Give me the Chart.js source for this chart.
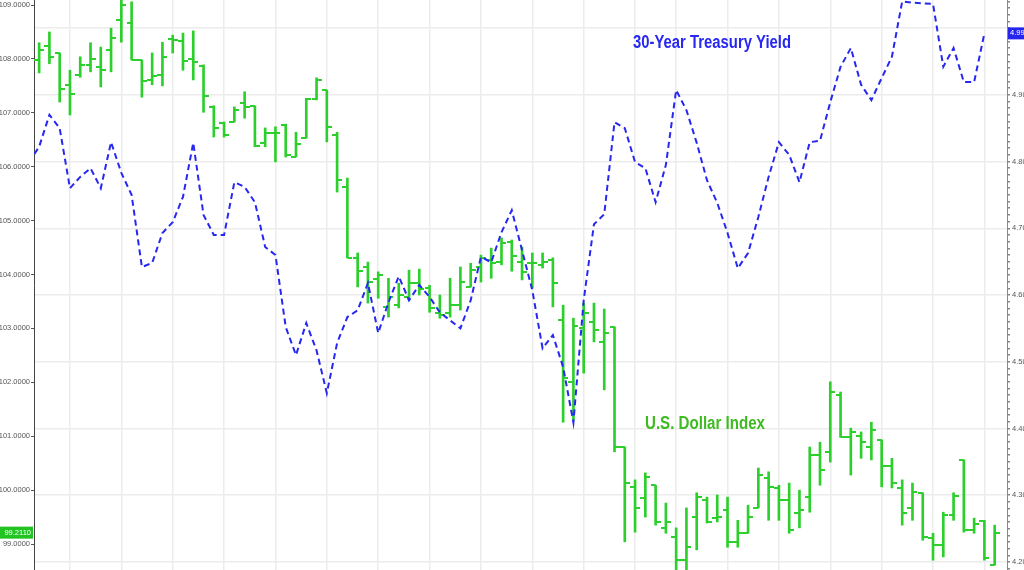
<!DOCTYPE html>
<html><head><meta charset="utf-8">
<script src="https://cdn.jsdelivr.net/npm/chart.js@4/dist/chart.umd.min.js"></script>
<style>html,body{margin:0;padding:0;background:#fff;overflow:hidden}#wrap{position:relative;width:1024px;height:570px}</style>
</head><body><div id="wrap"><canvas id="c"></canvas></div>
<script>
// trading-day index of each bar
const days = [0,1,2,3,4,5,6,7,8,9,10,11,12,13,14,15,16,17,18,19,20,21,22,23,24,25,26,27,28,29,30,31,32,33,34,35,36,37,38,39,40,41,42,43,44,45,46,47,48,49,50,51,52,53,54,55,56,57,58,59,60,61,62,63,64,65,66,67,68,69,70,71,72,73,74,75,76,77,78,79,80,81,82,83,84,85,86,87,88,89,90,91,92,93];
// first trading day of each week (vertical grid)
const weekStarts = [3,8,13,18,23,28,33,38,43,48,53,58,62,67,72,77,82,87,92];

const dxyOpen = [107.98,108.24,108.11,107.52,107.70,107.89,107.85,108.17,108.72,108.67,
 107.98,107.61,107.70,108.37,108.33,108.00,107.87,107.11,106.81,106.83,
 107.18,107.13,106.44,106.62,106.77,106.18,106.53,107.26,107.42,106.59,
 105.62,104.31,104.14,103.92,103.40,103.43,103.58,103.84,103.75,103.29,
 103.29,103.43,103.77,104.14,104.27,104.23,104.60,104.23,104.21,104.18,
 104.27,103.16,102.01,103.01,103.12,102.75,103.03,100.80,100.06,99.85,
 100.09,99.30,99.13,98.70,99.50,99.82,99.48,99.63,99.04,99.20,
 99.67,100.22,100.04,99.82,99.57,99.87,100.65,100.71,101.76,100.98,
 101.00,100.80,100.93,100.45,100.04,99.67,99.95,99.11,98.98,99.54,
 100.56,99.26,99.43,98.61];
const dxyHigh = [108.30,108.50,108.11,107.79,108.04,108.30,108.22,108.57,109.09,109.06,
 107.98,108.11,108.31,108.44,108.48,108.52,107.89,107.13,106.83,107.11,
 107.39,107.13,106.72,106.74,106.79,106.64,107.27,107.65,107.42,106.64,
 105.79,104.40,104.23,104.05,103.93,103.84,104.08,104.10,103.80,103.62,
 103.93,104.14,104.21,104.36,104.49,104.68,104.64,104.51,104.40,104.40,
 104.31,103.43,103.19,103.47,103.47,103.36,103.03,100.80,100.19,100.32,
 100.09,99.76,99.30,99.67,99.95,99.87,99.91,99.87,99.44,99.72,
 100.41,100.34,100.09,100.13,100.00,100.80,100.89,102.01,101.82,101.15,
 101.08,101.26,100.93,100.59,100.19,100.13,99.95,99.20,99.59,99.95,
 100.56,99.48,99.44,99.35];
const dxyLow = [107.74,107.91,107.20,106.96,107.66,107.76,107.48,107.76,108.31,107.98,
 107.29,107.52,107.50,108.11,107.79,107.61,107.01,106.55,106.55,106.83,
 106.90,106.37,106.37,106.09,106.18,106.18,106.53,107.24,106.46,105.53,
 104.31,103.77,103.47,103.56,103.21,103.38,103.53,103.62,103.30,103.19,
 103.21,103.34,103.77,103.86,103.93,104.18,104.06,103.90,103.75,104.12,
 103.40,101.26,101.30,102.17,102.75,101.86,100.71,99.04,99.22,99.50,
 99.35,99.20,98.33,98.33,98.89,99.39,99.41,98.94,98.94,99.20,
 99.67,99.44,99.44,99.20,99.30,99.59,100.09,100.52,100.98,100.28,
 100.59,100.56,100.06,100.04,99.35,99.44,99.07,98.70,98.76,99.44,
 99.22,99.20,98.70,98.61];
const dxyClose = [108.17,108.04,107.44,107.35,107.89,108.00,107.79,108.39,109.00,107.98,
 107.59,107.68,108.04,108.35,107.96,107.94,107.31,106.72,106.59,107.05,
 107.11,106.38,106.62,106.62,106.22,106.42,107.26,107.61,106.74,105.75,
 104.31,104.06,103.86,103.99,103.58,103.62,103.84,103.73,103.38,103.25,
 103.43,103.86,104.08,104.31,104.21,104.58,104.34,104.05,104.21,104.23,
 103.84,102.08,103.05,103.29,102.97,102.91,100.80,100.13,99.67,100.24,
 99.41,99.41,98.70,98.94,99.87,99.41,99.50,99.04,99.20,99.50,
 100.28,100.06,99.82,99.26,99.63,100.65,100.37,101.82,100.98,101.08,
 100.89,101.11,100.45,100.13,99.57,99.97,99.13,98.98,99.54,99.89,
 99.26,99.37,98.74,99.211];

const yieldDays = [-1,0,1,2,3,4,5,6,7,8,9,10,11,12,13,14,15,16,17,18,19,20,21,22,23,24,25,26,27,28,29,30,31,32,33,34,35,36,37,38,39,40,41,42,43,44,45,46,47,48,49,50,51,52,53,54,55,56,57,58,59,60,61,62,63,64,65,66,67,68,69,70,71,72,73,74,75,76,77,78,79,80,81,82,83,84,85,86,87,88,89,90,91,92];
const yield30 = [4.799,4.822,4.870,4.850,4.760,4.777,4.790,4.760,4.829,4.783,
 4.750,4.642,4.648,4.693,4.709,4.747,4.828,4.720,4.690,4.690,
 4.769,4.762,4.739,4.672,4.660,4.552,4.510,4.558,4.517,4.453,
 4.528,4.567,4.577,4.618,4.543,4.589,4.628,4.592,4.615,4.597,
 4.574,4.562,4.550,4.592,4.657,4.649,4.694,4.727,4.667,4.607,
 4.520,4.540,4.492,4.409,4.592,4.706,4.721,4.859,4.850,4.799,
 4.790,4.739,4.795,4.907,4.877,4.828,4.772,4.738,4.693,4.640,
 4.663,4.717,4.777,4.829,4.810,4.769,4.829,4.831,4.889,4.942,
 4.970,4.915,4.892,4.925,4.957,5.040,5.038,5.037,5.036,4.942,
 4.970,4.919,4.919,4.992];

const leftTicks = [99,100,101,102,103,104,105,106,107,108,109];
const rightMajorTicks = [4.2,4.3,4.4,4.5,4.6,4.7,4.8,4.9,5.0];
const rightLabelTicks = [4.2,4.3,4.4,4.5,4.6,4.7,4.8,4.9];
const lastDxyLabel = '99.2110';
const lastYieldLabel = '4.9920';
const titleYield = '30-Year Treasury Yield';
const titleDollar = 'U.S. Dollar Index';

const GREEN = '#2ccf2c';
const BLUE = '#2727f2';

function tickImg(side){
  const c = document.createElement('canvas');
  c.width = 10; c.height = 2;
  const g = c.getContext('2d');
  g.fillStyle = GREEN;
  if (side === 'L') g.fillRect(0,0,5,2); else g.fillRect(5,0,5,2);
  return c;
}
const openImg = tickImg('L'), closeImg = tickImg('R');

const rightMinor = [];
for (let k = 419; k <= 504; k++) rightMinor.push(k/100);
const inList = (list, v) => list.some(m => Math.abs(m - v) < 1e-6);

const overlay = {
  id: 'overlay',
  afterDraw(chart){
    const ctx = chart.ctx;
    const yL = chart.scales.yL, yR = chart.scales.yR;
    ctx.save();
    function fitText(txt, color, cx, cy, w){
      ctx.font = 'bold 18px "Liberation Sans Narrow","Liberation Sans",Arial,sans-serif';
      const m = ctx.measureText(txt).width;
      ctx.save();
      ctx.translate(cx, cy);
      ctx.scale(w/m, 1);
      ctx.fillStyle = color;
      ctx.textAlign = 'center'; ctx.textBaseline = 'middle';
      ctx.fillText(txt, 0, 0);
      ctx.restore();
    }
    fitText(titleYield, BLUE, 712, 43, 158);
    fitText(titleDollar, '#3fbb22', 705, 424, 120);
    const ly = yL.getPixelForValue(dxyClose[dxyClose.length-1]);
    ctx.fillStyle = '#22c422';
    ctx.fillRect(0, ly-6, 33, 12);
    ctx.fillStyle = '#fff';
    ctx.font = '7.5px "Liberation Sans",Arial,sans-serif';
    ctx.textAlign = 'right'; ctx.textBaseline = 'middle';
    ctx.fillText(lastDxyLabel, 31, ly);
    const ry = yR.getPixelForValue(yield30[yield30.length-1]);
    ctx.fillStyle = '#2525ee';
    ctx.fillRect(1008, ry-6, 20, 12);
    ctx.fillStyle = '#fff';
    ctx.textAlign = 'left';
    ctx.fillText(lastYieldLabel, 1010, ry);
    ctx.restore();
  }
};

new Chart(document.getElementById('c'), {
  type: 'line',
  data: {
    datasets: [
      {
        type: 'line', label: '30Y', yAxisID: 'yR', order: 0,
        data: yieldDays.map((d,i)=>({x:d, y:yield30[i]})),
        borderColor: BLUE, borderWidth: 2, borderDash: [6,4],
        pointRadius: 0, tension: 0, fill: false
      },
      {
        type: 'bar', label: 'HL', yAxisID: 'yL', order: 2,
        data: days.map((d,i)=>({x:d, y:[dxyLow[i], dxyHigh[i]]})),
        backgroundColor: GREEN, borderWidth: 0, barThickness: 2, grouped: false
      },
      {
        type: 'line', label: 'O', yAxisID: 'yL', order: 1, showLine: false,
        data: days.map((d,i)=>({x:d, y:dxyOpen[i]})),
        pointStyle: openImg, pointRadius: 5, pointHoverRadius: 5
      },
      {
        type: 'line', label: 'C', yAxisID: 'yL', order: 1, showLine: false,
        data: days.map((d,i)=>({x:d, y:dxyClose[i]})),
        pointStyle: closeImg, pointRadius: 5, pointHoverRadius: 5
      }
    ]
  },
  options: {
    responsive: true, maintainAspectRatio: false, animation: false,
    events: [],
    layout: { padding: 0, autoPadding: false },
    plugins: { legend: {display:false}, tooltip: {enabled:false} },
    scales: {
      x: {
        type: 'linear', min: -0.5, max: 94.2, offset: false,
        afterBuildTicks: s => { s.ticks = weekStarts.map(v=>({value:v})); },
        afterFit: s => { s.height = 0; s.paddingLeft = 0; s.paddingRight = 0; },
        ticks: { display: false },
        grid: { color: '#ececec', lineWidth: 1.5, drawTicks: false, offset: false },
        border: { display: false }
      },
      yL: {
        type: 'linear', position: 'left', min: 98.518, max: 109.093,
        afterBuildTicks: s => { s.ticks = leftTicks.map(v=>({value:v})); },
        afterFit: s => { s.width = 34; s.paddingTop = 0; s.paddingBottom = 0; },
        ticks: { callback: v => Number(v).toFixed(4), color: '#555', font: {size: 7.5, family: '"Liberation Sans",Arial'}, padding: 1, autoSkip: false },
        grid: { drawOnChartArea: false, drawTicks: true, tickLength: 3, color: '#555' },
        border: { display: true, color: '#444', width: 1, dash: [2,2] }
      },
      yR: {
        type: 'linear', position: 'right', min: 4.188, max: 5.042,
        afterBuildTicks: s => { s.ticks = rightMinor.map(v=>({value:v})); },
        afterFit: s => { s.width = 17; s.paddingTop = 0; s.paddingBottom = 0; },
        ticks: { autoSkip: false, callback: v => inList(rightLabelTicks, v) ? Number(v).toFixed(4) : '', color: '#555', font: {size: 7.5, family: '"Liberation Sans",Arial'}, padding: 2 },
        grid: { drawOnChartArea: true, drawTicks: true, tickLength: 3,
          color: c => (c.tick && inList(rightMajorTicks, c.tick.value)) ? '#ececec' : 'rgba(0,0,0,0)',
          lineWidth: 1.5,
          tickColor: '#888' },
        border: { display: true, color: '#888', width: 1 }
      }
    }
  },
  plugins: [overlay]
});
</script></body></html>
